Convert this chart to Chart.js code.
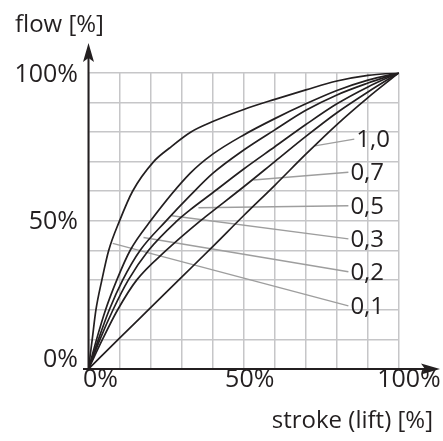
<!DOCTYPE html>
<html><head><meta charset="utf-8">
<script src="https://cdn.jsdelivr.net/npm/chart.js@4/dist/chart.umd.min.js"></script>
<style>html,body{margin:0;padding:0;background:#fff}canvas{display:block}</style>
</head><body>
<canvas id="c" width="443" height="441" style="width:443px;height:441px"></canvas>
<script>
// ---- data (percent stroke -> percent flow) ----
const curveLabels = ["0,1", "0,2", "0,3", "0,5", "0,7", "1,0"];
const x01 = [0, 1.2, 2.4, 4.3, 6.5, 10, 14.2, 21, 26, 33, 40, 50, 60, 70, 80, 90, 100];
const y01 = [0, 10, 20, 30, 40, 50, 60, 70, 74.5, 80, 83.5, 87.6, 91, 94.2, 97.2, 99.1, 100];
const x02 = [0, 2.6, 5.5, 9.1, 13.4, 20, 32.7, 40, 50, 60, 70, 80, 90, 100];
const y02 = [0, 10, 20, 30, 40, 50, 66, 72.5, 79, 84.5, 89.5, 94, 97.5, 100];
const x03 = [0, 3.2, 6.7, 11, 16.6, 25, 32.7, 40, 50, 60, 70, 80, 90, 100];
const y03 = [0, 10, 20, 30, 40, 50, 58.5, 66, 73.9, 80.7, 87.3, 92.5, 96.5, 100];
const x05 = [0, 3.7, 7.9, 12.8, 19.3, 28.5, 32.7, 40, 50, 60, 70, 80, 90, 100];
const y05 = [0, 10, 20, 30, 40, 50, 53.7, 59.5, 67.5, 75, 82.5, 89.5, 95.2, 100];
const x07 = [0, 4.5, 9.4, 15.5, 25, 36, 40, 50, 60, 70, 80, 90, 100];
const y07 = [0, 10, 20, 30, 40, 50, 53.3, 61.5, 70, 78.5, 86.5, 93.5, 100];
const x10 = [0, 10, 20, 30, 40, 50, 60, 70, 80, 90, 100];
const y10 = [0, 10.4, 20.7, 31, 41.3, 51.8, 62, 72.5, 82.5, 91.6, 100];

// leader lines: point on curve -> point next to label
const leaderCurveX = [7.8, 17.7, 26.8, 35.4, 53.1, 72.9];
const leaderCurveY = [42.4, 44.4, 51.7, 54.4, 63.8, 75.3];
const leaderTextX = [83.7, 83.7, 83.7, 83.7, 83.7, 85.6];
const leaderTextY = [21.3, 32.8, 43.9, 55.1, 66.4, 77.6];

// axis labels
const tickValues = [0, 50, 100];
const tickLabels = ["0%", "50%", "100%"];
const xTitle = "stroke (lift) [%]";
const yTitle = "flow [%]";

// ---- build ----
const INK = '#231f20';
const FAMILY = '"Open Sans", "Liberation Sans", sans-serif';
const curveX = [x01, x02, x03, x05, x07, x10];
const curveY = [y01, y02, y03, y05, y07, y10];
const pts = (xs, ys) => xs.map((x, i) => ({x: x, y: ys[i]}));

const datasets = [];
curveX.forEach((xs, i) => {
  datasets.push({
    label: curveLabels[i], data: pts(xs, curveY[i]),
    borderColor: INK, borderWidth: 1.7, pointRadius: 0,
    cubicInterpolationMode: 'monotone', fill: false
  });
});
curveLabels.forEach((l, i) => {
  datasets.push({
    label: 'leader ' + l,
    data: [{x: leaderCurveX[i], y: leaderCurveY[i]}, {x: leaderTextX[i], y: leaderTextY[i]}],
    borderColor: '#9e9e9e', borderWidth: 1.4, pointRadius: 0, tension: 0, fill: false
  });
});

const decor = {
  id: 'decor',
  afterDatasetsDraw(chart) {
    const ctx = chart.ctx, xs = chart.scales.x, ys = chart.scales.y;
    const L = xs.getPixelForValue(0), B = ys.getPixelForValue(0);
    ctx.save();
    ctx.strokeStyle = INK; ctx.fillStyle = INK; ctx.lineWidth = 2;
    // y axis with arrow
    ctx.beginPath(); ctx.moveTo(L, B + 1); ctx.lineTo(L, 56); ctx.stroke();
    ctx.beginPath(); ctx.moveTo(L, 43); ctx.lineTo(L + 5.5, 62); ctx.lineTo(L, 58); ctx.lineTo(L - 5.5, 62); ctx.closePath(); ctx.fill();
    // x axis with arrow
    ctx.beginPath(); ctx.moveTo(83, B); ctx.lineTo(427, B); ctx.stroke();
    ctx.beginPath(); ctx.moveTo(440, B); ctx.lineTo(421, B - 5.5); ctx.lineTo(425, B); ctx.lineTo(421, B + 5.5); ctx.closePath(); ctx.fill();

    ctx.fillStyle = INK; ctx.textBaseline = 'middle';
    ctx.font = '25px ' + FAMILY;
    // y tick labels
    const yOff = [-9, 1, 2];
    ctx.textAlign = 'right';
    tickValues.forEach((v, i) => ctx.fillText(tickLabels[i], 78, ys.getPixelForValue(v) + yOff[i]));
    // x tick labels
    const xOff = [12, 6, 10];
    ctx.textAlign = 'center';
    tickValues.forEach((v, i) => ctx.fillText(tickLabels[i], xs.getPixelForValue(v) + xOff[i], 380));
    // titles
    ctx.font = '24px ' + FAMILY;
    ctx.textAlign = 'left';
    ctx.fillText(yTitle, 15, 25);
    ctx.textAlign = 'right';
    ctx.fillText(xTitle, 433, 421);
    // curve labels
    ctx.textAlign = 'left';
    curveLabels.forEach((l, i) => {
      ctx.fillText(l, xs.getPixelForValue(leaderTextX[i]) + 2, ys.getPixelForValue(leaderTextY[i]) + 1);
    });
    ctx.restore();
  }
};

new Chart(document.getElementById('c'), {
  type: 'line',
  data: {datasets: datasets},
  options: {
    responsive: false, animation: false, devicePixelRatio: 1,
    layout: {padding: {left: 88.5, right: 44, top: 72.7, bottom: 72}},
    plugins: {legend: {display: false}, tooltip: {enabled: false}},
    scales: {
      x: {type: 'linear', min: 0, max: 100,
          ticks: {display: false, stepSize: 10},
          grid: {color: '#c6c6c8', lineWidth: 1.5, drawTicks: false},
          border: {display: false}},
      y: {type: 'linear', min: 0, max: 100,
          ticks: {display: false, stepSize: 10},
          grid: {color: '#c6c6c8', lineWidth: 1.5, drawTicks: false},
          border: {display: false}}
    }
  },
  plugins: [decor]
});
</script>
</body></html>
